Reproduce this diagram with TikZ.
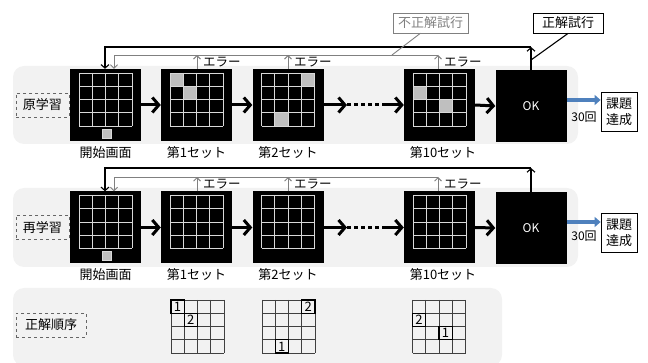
\documentclass[tikz,border=0pt]{standalone}
\usepackage{fontspec}
\setmainfont{Noto Sans CJK JP}
\usetikzlibrary{arrows.meta}
\definecolor{bgc}{HTML}{F2F2F2}
\definecolor{cellg}{HTML}{BFBFBF}
\definecolor{linec}{HTML}{D9D9D9}
\definecolor{bluec}{HTML}{4F81BD}
\newcommand{\drawgrid}[3]{%
  \foreach \i in {0,...,4}{%
    \draw[#3] (#1+\i*13.25,#2) -- (#1+\i*13.25,#2+53);
    \draw[#3] (#1,#2+\i*13.25) -- (#1+53,#2+\i*13.25);}}
\newcommand{\hcell}[4]{% x0 y0 col row
  \fill[cellg] ({#1+#3*13.25},{#2+#4*13.25}) rectangle ++(13.25,13.25);}
\newcommand{\ncell}[5]{% x0 y0 col row num
  \draw[black,line width=1.3pt] ({#1+#3*13.25},{#2+#4*13.25}) rectangle ++(13.25,13.25);
  \node[font=\fontsize{13}{13}\selectfont,inner sep=0pt,anchor=base] at ({#1+#3*13.25+6.6},{#2+#4*13.25+11.4}) {#5};}
\begin{document}
\begin{tikzpicture}[x=1pt,y=-1pt,
  screen/.style={fill=black,minimum width=71pt,minimum height=72pt,inner sep=0pt,draw=none},
  lbl/.style={font=\fontsize{13}{14}\selectfont,inner sep=0pt},
  err/.style={font=\fontsize{12.5}{13}\selectfont,inner sep=0pt,anchor=west},
  dbox/.style={draw=gray!80!black,dashed,minimum height=24pt,inner sep=0pt,font=\fontsize{13}{14}\selectfont},
  bigarrow/.style={line width=3pt,-{Straight Barb[length=6.5pt,width=15pt]}},
  garrow/.style={draw=gray,line width=0.9pt,-{Straight Barb[length=3.5pt,width=7pt]}},
  karrow/.style={draw=black,line width=1.1pt,-{Straight Barb[length=3.5pt,width=8pt]}},
  gl/.style={draw=linec,line width=0.8pt},
  dl/.style={draw=black!75,line width=0.9pt}]
\useasboundingbox (0,0) rectangle (648,363);
% backgrounds
\fill[bgc,rounded corners=11pt] (13,66) rectangle (578,144);
\fill[bgc,rounded corners=11pt] (13,188) rectangle (578,267);
\fill[bgc,rounded corners=11pt] (13,288) rectangle (502,366);
% ===== row 1 =====
\node[screen] (a1) at (105.5,105) {};
\node[screen] (a2) at (196.5,105) {};
\node[screen] (a3) at (288,105) {};
\node[screen] (a4) at (439.5,105) {};
\node[screen,font=\fontsize{12}{13}\selectfont,text=white] (a5) at (531,106) {OK};
\hcell{170}{73}{0}{0}\hcell{170}{73}{1}{1}
\hcell{261.5}{73}{3}{0}\hcell{261.5}{73}{1}{3}
\hcell{413}{73}{0}{1}\hcell{413}{73}{2}{2}
\drawgrid{79}{73}{gl}
\drawgrid{170}{73}{gl}
\drawgrid{261.5}{73}{gl}
\drawgrid{413}{73}{gl}
\draw[fill=cellg,draw=linec,line width=0.8pt] (102,129) rectangle (111,138);
\node[lbl] (t11) at (105.5,153) {開始画面};
\node[lbl] (t12) at (196.5,153) {第1セット};
\node[lbl] (t13) at (288,153) {第2セット};
\node[lbl] (t14) at (443,153) {第10セット};
\node[dbox,minimum width=53pt] (l1) at (42.5,105) {原学習};
\draw[bigarrow] (a1.east) -- (a2.west);
\draw[bigarrow] (a2.east) -- (a3.west);
\coordinate (d1) at (347,105);
\coordinate (d2) at (382,105);
\draw[bigarrow] (a3.east) -- (d1);
\draw[line width=3pt,dash pattern=on 4pt off 3pt] (d1) -- (d2);
\draw[bigarrow] (d2) -- (a4.west);
\draw[bigarrow] (a4.east) -- (a5.west);
\coordinate (k1) at (531,47);
\coordinate (k2) at (105,47);
\coordinate (g1) at (438,55);
\coordinate (g2) at (114,55);
\draw[karrow] (a5.north) -- (k1);
\draw[karrow] (k1) -- (k2) -- (k2 |- a1.north);
\draw[garrow] (g1) -- (g2) -- (g2 |- a1.north);
\draw[garrow] (a2.north -| 197,0) -- (197,55);
\draw[garrow] (a3.north -| 288,0) -- (288,55);
\draw[garrow] (a4.north -| 438,0) -- (g1);
\node[err] (e11) at (203,62) {エラー};
\node[err] (e12) at (294,62) {エラー};
\node[err] (e13) at (444,62) {エラー};
\node[draw=gray,text=gray,minimum width=75pt,minimum height=20pt,inner sep=0pt,font=\fontsize{13}{14}\selectfont] (ng) at (430.5,23) {不正解試行};
\node[draw=black,line width=0.9pt,minimum width=70pt,minimum height=20pt,inner sep=0pt,font=\fontsize{13}{14}\selectfont] (sg) at (568,23) {正解試行};
\coordinate (ngend) at (392,55);
\coordinate (sgend) at (531,60);
\draw[gray,line width=0.9pt] ([xshift=-10pt]ng.south) -- (ngend);
\draw[black,line width=1.1pt] (sg.south) -- (sgend);
\node[draw=black,line width=0.8pt,minimum width=36pt,minimum height=39pt,inner sep=0pt,align=center,font=\fontsize{13}{16}\selectfont] (c1) at (619,111.5) {課題\\達成};
\draw[bluec,line width=3.5pt,-{Triangle[length=6pt,width=10pt]}] (a5.east |- 0,100) -- (c1.west |- 0,100);
\node[font=\fontsize{12}{13}\selectfont,inner sep=0pt] (n1) at (584,117) {30回};
% ===== row 2 =====
\node[screen] (b1) at (105.5,227.5) {};
\node[screen] (b2) at (196.5,227.5) {};
\node[screen] (b3) at (288,227.5) {};
\node[screen] (b4) at (439.5,227.5) {};
\node[screen,font=\fontsize{12}{13}\selectfont,text=white] (b5) at (531,228) {OK};
\drawgrid{79}{195.5}{gl}
\drawgrid{170}{195.5}{gl}
\drawgrid{261.5}{195.5}{gl}
\drawgrid{413}{195.5}{gl}
\draw[fill=cellg,draw=linec,line width=0.8pt] (102,251.5) rectangle (111,260.5);
\node[lbl] (t21) at (105.5,275) {開始画面};
\node[lbl] (t22) at (196.5,275) {第1セット};
\node[lbl] (t23) at (288,275) {第2セット};
\node[lbl] (t24) at (443,275) {第10セット};
\node[dbox,minimum width=53pt] (l2) at (42.5,227.5) {再学習};
\draw[bigarrow] (b1.east) -- (b2.west);
\draw[bigarrow] (b2.east) -- (b3.west);
\coordinate (f1) at (347,227.5);
\coordinate (f2) at (382,227.5);
\draw[bigarrow] (b3.east) -- (f1);
\draw[line width=3pt,dash pattern=on 4pt off 3pt] (f1) -- (f2);
\draw[bigarrow] (f2) -- (b4.west);
\draw[bigarrow] (b4.east) -- (b5.west);
\coordinate (m1) at (531,168);
\coordinate (m2) at (105,168);
\coordinate (h1) at (438,177);
\coordinate (h2) at (114,177);
\draw[karrow] (b5.north) -- (m1);
\draw[karrow] (m1) -- (m2) -- (m2 |- b1.north);
\draw[garrow] (h1) -- (h2) -- (h2 |- b1.north);
\draw[garrow] (b2.north -| 197,0) -- (197,177);
\draw[garrow] (b3.north -| 288,0) -- (288,177);
\draw[garrow] (b4.north -| 438,0) -- (h1);
\node[err] (e21) at (203,184.5) {エラー};
\node[err] (e22) at (294,184.5) {エラー};
\node[err] (e23) at (444,184.5) {エラー};
\node[draw=black,line width=0.8pt,minimum width=36pt,minimum height=39pt,inner sep=0pt,align=center,font=\fontsize{13}{16}\selectfont] (c2) at (619,232.5) {課題\\達成};
\draw[bluec,line width=3.5pt,-{Triangle[length=6pt,width=10pt]}] (b5.east |- 0,222) -- (c2.west |- 0,222);
\node[font=\fontsize{12}{13}\selectfont,inner sep=0pt] (n2) at (584,236) {30回};
% ===== row 3 =====
\node[dbox,minimum width=70pt] (l3) at (51,325) {正解順序};
\drawgrid{171}{300}{dl}
\drawgrid{262}{300}{dl}
\drawgrid{412.5}{300}{dl}
\ncell{171}{300}{0}{0}{1}
\ncell{171}{300}{1}{1}{2}
\ncell{262}{300}{3}{0}{2}
\ncell{262}{300}{1}{3}{1}
\ncell{412.5}{300}{0}{1}{2}
\ncell{412.5}{300}{2}{2}{1}
\end{tikzpicture}
\end{document}
